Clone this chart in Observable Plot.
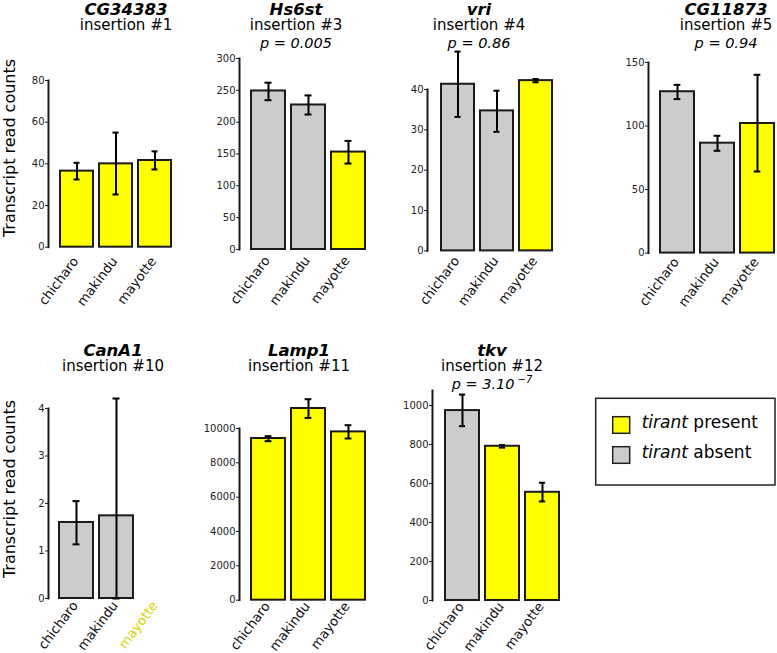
<!DOCTYPE html>
<html><head><meta charset="utf-8">
<script src="https://cdn.jsdelivr.net/npm/d3@7"></script>
<script src="https://cdn.jsdelivr.net/npm/@observablehq/plot@0.6"></script>
<style>
html,body{margin:0;padding:0;background:#fff;overflow:hidden}
#chart{position:relative;width:777px;height:653px;overflow:hidden;font-family:"DejaVu Sans",sans-serif}
#chart svg{position:absolute}
</style></head><body><div id="chart"></div>
<script>
// ---------- data ----------
const populations = ["chicharo", "makindu", "mayotte"];
const genes = ["CG34383", "Hs6st", "vri", "CG11873", "CanA1", "Lamp1", "tkv"];
const insertionLabels = ["insertion #1", "insertion #3", "insertion #4", "insertion #5", "insertion #10", "insertion #11", "insertion #12"];
const pValueLabels = [null, "p = 0.005", "p = 0.86", "p = 0.94", null, null, "p = 3.10"];
const pValueExponents = [null, null, null, null, null, null, "−7"];
const meanCounts = [
  [36.5, 40.0, 41.6],
  [249, 227, 153],
  [41.3, 34.7, 42.2],
  [127, 86.5, 102],
  [1.6, 1.74, null],
  [9417, 11165, 9802],
  [974, 791, 555]
];
const errorLow = [
  [32.5, 25.3, 37.3],
  [234.5, 212, 135],
  [33.2, 29.5, 41.8],
  [121.2, 80.5, 64.2],
  [1.14, 0, null],
  [9260, 10617, 9417],
  [894, 784, 508]
];
const errorHigh = [
  [40.5, 55, 46],
  [262, 242, 170.6],
  [49.4, 39.7, 42.6],
  [132.4, 92.3, 140.3],
  [2.05, 4.21, null],
  [9551, 11706, 10192],
  [1056, 797, 604]
];
const tirantStatus = [
  ["present", "present", "present"],
  ["absent", "absent", "present"],
  ["absent", "absent", "present"],
  ["absent", "absent", "present"],
  ["absent", "absent", "present"],
  ["present", "present", "present"],
  ["absent", "present", "present"]
];
const yTicks = [
  [0, 20, 40, 60, 80],
  [0, 50, 100, 150, 200, 250, 300],
  [0, 10, 20, 30, 40],
  [0, 50, 100, 150],
  [0, 1, 2, 3, 4],
  [0, 2000, 4000, 6000, 8000, 10000],
  [0, 200, 400, 600, 800, 1000]
];
const yAxisMax = [80, 300, 40, 150, 4, 10000, 1077];
const legendKeys = ["present", "absent"];
const legendColors = ["#ffff00", "#cccccc"];
const yAxisTitle = "Transcript read counts";

// ---------- layout (pixels) ----------
const layout = [
  {axisX: 48,    topY: 80,    zeroY: 246.7, barL: 59,    barR: 173,   cx: 126, row: 0, labelDy: 14},
  {axisX: 239.3, topY: 58.3,  zeroY: 249.3, barL: 251.7, barR: 365.7, cx: 296, row: 0, labelDy: 11},
  {axisX: 426.7, topY: 89.3,  zeroY: 250.7, barL: 439,   barR: 552.7, cx: 479, row: 0, labelDy: 10},
  {axisX: 648.3, topY: 61.7,  zeroY: 252.3, barL: 660,   barR: 775,   cx: 726, row: 0, labelDy: 9},
  {axisX: 47.7,  topY: 408.3, zeroY: 598.3, barL: 59,    barR: 173,   cx: 113, row: 1, labelDy: 7},
  {axisX: 239.3, topY: 428.3, zeroY: 600,   barL: 251,   barR: 365.7, cx: 299, row: 1, labelDy: 6},
  {axisX: 431.7, topY: 390,   zeroY: 600,   barL: 443.3, barR: 560,   cx: 492, row: 1, labelDy: 6}
];

const chart = document.getElementById("chart");
const FONT = "DejaVu Sans, sans-serif";

genes.forEach((gene, i) => {
  const L = layout[i];
  const data = populations.map((p, j) => ({
    pop: p, value: meanCounts[i][j], lo: errorLow[i][j], hi: errorHigh[i][j], status: tirantStatus[i][j]
  }));
  const bars = data.filter(d => d.value != null);
  const missing = data.filter(d => d.value == null);
  const gap = L.barL - L.axisX;
  const S = L.barR - L.barL;
  const pi = 0.15;
  const step = S / (3 - pi);
  const po = gap / step;
  const bw = step * (1 - pi);
  const fw = S + 2 * gap;
  const fh = L.zeroY - L.topY;
  const mL = 45, mR = 20, mT = 50, mB = 80;
  const capInset = (bw - 7) / 2;
  const labelOpts = {x: "pop", text: "pop", frameAnchor: "bottom", rotate: -53, textAnchor: "end", dx: 2, dy: L.labelDy, fontSize: 13.2};
  const svg = Plot.plot({
    width: mL + fw + mR,
    height: mT + fh + mB,
    marginLeft: mL, marginRight: mR, marginTop: mT, marginBottom: mB,
    style: {background: "transparent", overflow: "visible", fontFamily: FONT},
    x: {domain: populations, paddingInner: pi, paddingOuter: po, align: 0.5, axis: null},
    y: {domain: [0, yAxisMax[i]], axis: null},
    color: {domain: legendKeys, range: legendColors},
    marks: [
      Plot.barY(bars, {x: "pop", y: "value", fill: "status", stroke: "#1a1a1a", strokeWidth: 2}),
      Plot.ruleX(bars, {x: "pop", y1: "lo", y2: "hi", stroke: "#000", strokeWidth: 2}),
      Plot.tickY(bars, {x: "pop", y: "lo", stroke: "#000", strokeWidth: 2, insetLeft: capInset, insetRight: capInset}),
      Plot.tickY(bars, {x: "pop", y: "hi", stroke: "#000", strokeWidth: 2, insetLeft: capInset, insetRight: capInset}),
      Plot.axisY({ticks: yTicks[i], tickSize: 3, tickPadding: 1, fontSize: 10, tickFormat: d => String(d), color: "#222"}),
      Plot.frame({anchor: "left", stroke: "#1a1a1a", strokeWidth: 2}),
      Plot.text(bars, {...labelOpts, fill: "#111"}),
      Plot.text(missing, {...labelOpts, fill: "#d4d400"})
    ]
  });
  svg.style.left = (L.axisX - mL) + "px";
  svg.style.top = (L.topY - mT) + "px";
  chart.appendChild(svg);
});

// ---------- titles, axis titles, legend ----------
const parts = [];
genes.forEach((gene, i) => {
  const L = layout[i];
  const off = L.row === 0 ? 0 : 341;
  parts.push(`<text x="${L.cx}" y="${14.5 + off}" text-anchor="middle" font-size="16.5" font-weight="bold" font-style="italic">${gene}</text>`);
  parts.push(`<text x="${L.cx}" y="${30 + off}" text-anchor="middle" font-size="15">${insertionLabels[i]}</text>`);
  if (pValueLabels[i]) {
    const sup = pValueExponents[i] ? `<tspan dx="3" dy="-6" font-size="10">${pValueExponents[i]}</tspan>` : "";
    parts.push(`<text x="${L.cx}" y="${48 + off}" text-anchor="middle" font-size="14.5" font-style="italic">${pValueLabels[i]}${sup}</text>`);
  }
});
[148, 489].forEach(cy => {
  parts.push(`<text transform="translate(9,${cy}) rotate(-90)" text-anchor="middle" dy="0.35em" font-size="16">${yAxisTitle}</text>`);
});
parts.push(`<rect x="595.7" y="398.3" width="179.3" height="86.7" fill="#fff" stroke="#222" stroke-width="1.5"/>`);
legendKeys.forEach((k, j) => {
  const y = 416.7 + j * 30;
  parts.push(`<rect x="612.7" y="${y}" width="17" height="16.6" fill="${legendColors[j]}" stroke="#222" stroke-width="1.5"/>`);
  parts.push(`<text x="641.7" y="${y + 11.6}" font-size="17"><tspan font-style="italic">tirant</tspan> ${k}</text>`);
});
const ov = document.createElementNS("http://www.w3.org/2000/svg", "svg");
ov.setAttribute("width", 777);
ov.setAttribute("height", 653);
ov.setAttribute("font-family", FONT);
ov.style.left = "0px"; ov.style.top = "0px";
ov.innerHTML = parts.join("");
chart.appendChild(ov);
</script></body></html>
